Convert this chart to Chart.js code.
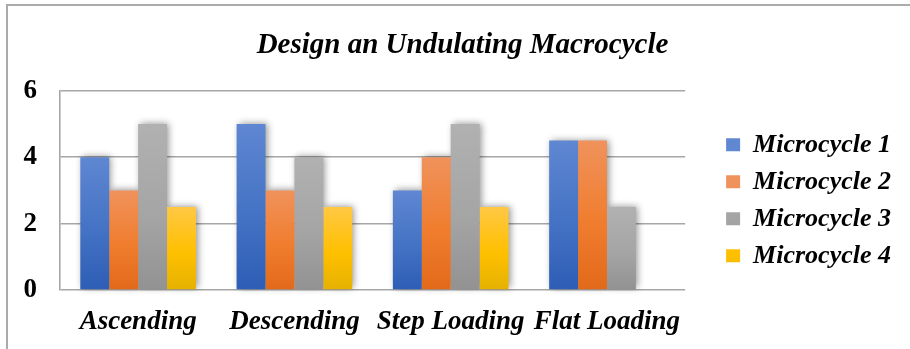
<!DOCTYPE html>
<html>
<head>
<meta charset="utf-8">
<script src="https://cdn.jsdelivr.net/npm/chart.js@4.4.1/dist/chart.umd.min.js"></script>
<style>
  html, body { margin: 0; padding: 0; background: #ffffff; }
  #wrap { position: relative; width: 910px; height: 349px; overflow: hidden; }
  #frame {
    position: absolute; left: 6px; top: 4px; width: 920px; height: 360px;
    border-left: 2px solid #ababab; border-top: 2px solid #ababab;
  }
  #c { position: absolute; left: 0; top: 0; }
</style>
</head>
<body>
<div id="wrap">
  <div id="frame"></div>
  <canvas id="c" width="910" height="349"></canvas>
</div>
<script>
// Loading patterns and the four microcycles of each pattern
const categories = ['Ascending', 'Descending', 'Step Loading', 'Flat Loading'];
const seriesNames = ['Microcycle 1', 'Microcycle 2', 'Microcycle 3', 'Microcycle 4'];
const microcycle1 = [4, 5, 3, 4.5];
const microcycle2 = [3, 3, 4, 4.5];
const microcycle3 = [5, 4, 5, 2.5];
const microcycle4 = [2.5, 2.5, 2.5, null];
const yTicks = [0, 2, 4, 6];

// Office-style palette: [top of bar, middle, bottom of bar]
const palettes = [
  ['#5f87d2', '#4472c4', '#2d5db5'],
  ['#f0925c', '#f07d2e', '#e2691a'],
  ['#b1b1b1', '#a5a5a5', '#929292'],
  ['#ffc844', '#ffc000', '#e5b100']
];

const serif = "'Liberation Serif', 'Times New Roman', serif";
const LEGEND_GAP = 30;
const TITLE_SHIFT = 24;

function barFill(idx) {
  return function (ctx) {
    const pal = palettes[idx];
    if (ctx.type !== 'data') return pal[1];
    const chart = ctx.chart;
    const y = chart.scales && chart.scales.y;
    if (!chart.chartArea || !y || ctx.parsed == null || ctx.parsed.y == null) return pal[1];
    const top = y.getPixelForValue(ctx.parsed.y);
    const bottom = y.getPixelForValue(0);
    if (!isFinite(top) || !isFinite(bottom) || bottom - top < 1) return pal[1];
    const g = chart.ctx.createLinearGradient(0, top, 0, bottom);
    g.addColorStop(0, pal[0]);
    g.addColorStop(0.55, pal[1]);
    g.addColorStop(1, pal[2]);
    return g;
  };
}

// Soft drop shadow painted under every bar before the bars themselves
const barShadow = {
  id: 'barShadow',
  beforeDatasetsDraw(chart) {
    const ctx = chart.ctx;
    const shift = 5000;
    ctx.save();
    ctx.shadowColor = 'rgba(0,0,0,0.42)';
    ctx.shadowBlur = 7;
    ctx.shadowOffsetX = shift + 2;
    ctx.shadowOffsetY = -1;
    ctx.fillStyle = '#000';
    chart.data.datasets.forEach((ds, i) => {
      const meta = chart.getDatasetMeta(i);
      meta.data.forEach((bar, j) => {
        if (ds.data[j] == null) return;
        const p = bar.getProps(['x', 'y', 'base', 'width'], true);
        ctx.fillRect(p.x - p.width / 2 - shift, p.y, p.width, p.base - p.y);
      });
    });
    ctx.restore();
  }
};

// Leave air between the plot and the legend column; nudge the heading right
const blockOffsets = {
  id: 'blockOffsets',
  afterLayout(chart) {
    if (chart.legend) {
      chart.legend.left += LEGEND_GAP;
      chart.legend.right += LEGEND_GAP;
    }
    if (chart.titleBlock) {
      chart.titleBlock.left += TITLE_SHIFT;
      chart.titleBlock.right += TITLE_SHIFT;
    }
  }
};

const seriesValues = [microcycle1, microcycle2, microcycle3, microcycle4];

new Chart(document.getElementById('c'), {
  type: 'bar',
  data: {
    labels: categories,
    datasets: seriesNames.map((name, i) => ({
      label: name,
      data: seriesValues[i],
      backgroundColor: barFill(i),
      borderWidth: 0,
      categoryPercentage: 0.74,
      barPercentage: 1.0
    }))
  },
  plugins: [barShadow, blockOffsets],
  options: {
    responsive: false,
    animation: false,
    devicePixelRatio: 1,
    layout: { padding: { left: 6, top: 0, right: 39, bottom: 0 } },
    plugins: {
      title: {
        display: true,
        text: 'Design an Undulating Macrocycle',
        color: '#000',
        font: { family: serif, size: 29, weight: 'bold', style: 'italic', lineHeight: 1.2 },
        padding: { top: 28, bottom: 28 }
      },
      legend: {
        display: true,
        position: 'right',
        align: 'start',
        fullSize: false,
        title: { display: true, text: '', font: { size: 10, lineHeight: 1 }, padding: { top: 20, bottom: 0 } },
        labels: {
          color: '#000',
          boxWidth: 14,
          boxHeight: 13,
          padding: 11,
          font: { family: serif, size: 26, weight: 'bold', style: 'italic' }
        }
      },
      tooltip: { enabled: false }
    },
    scales: {
      x: {
        grid: { display: false, drawTicks: false },
        border: { display: false },
        ticks: {
          color: '#000',
          padding: 16,
          maxRotation: 0,
          font: { family: serif, size: 27, weight: 'bold', style: 'italic' }
        },
        afterFit(scale) { scale.height = 59; }
      },
      y: {
        min: 0,
        max: 6,
        afterBuildTicks(scale) { scale.ticks = yTicks.map(v => ({ value: v })); },
        grid: { color: '#a6a6a6', lineWidth: 1.6, drawTicks: false },
        border: { display: true, color: '#a6a6a6', width: 1.6 },
        ticks: {
          color: '#000',
          padding: 23,
          font: { family: serif, size: 27, weight: 'bold' }
        },
        afterFit(scale) { scale.width = 54; }
      }
    }
  }
});
</script>
</body>
</html>
